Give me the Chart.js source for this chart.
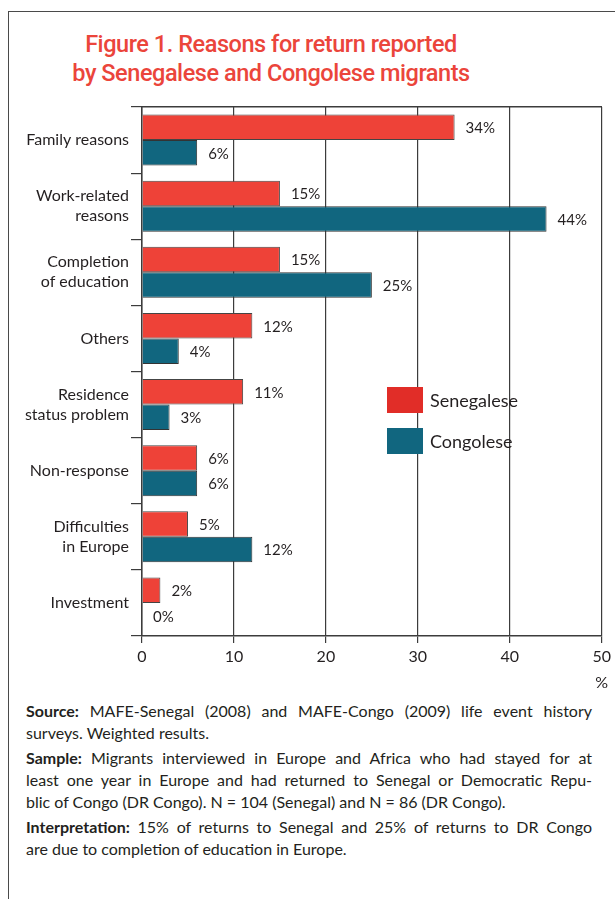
<!DOCTYPE html>
<html lang="en">
<head>
  <meta charset="UTF-8" />
  <title>Reasons for return</title>
  <script src="https://cdn.jsdelivr.net/npm/chart.js"></script>
  <style>
    * { margin: 0; padding: 0; box-sizing: border-box; }
    body {
      width: 615px;
      height: 899px;
      background: #fff;
      position: relative;
      overflow: hidden;
      font-family: Lato, sans-serif;
      color: #231f20;
    }
    .frame {
      position: absolute;
      left: 8px;
      top: 11px;
      width: 620px;
      height: 900px;
      border-left: 1.5px solid #4a4a4a;
      border-top: 1.5px solid #4a4a4a;
    }
    .title {
      position: absolute;
      left: 0;
      width: 542px;
      top: 30px;
      text-align: center;
      font-family: Roboto, sans-serif;
      font-weight: 500;
      font-size: 23.5px;
      line-height: 29px;
      color: #eb453b;
      letter-spacing: -0.45px;
    }
    .chart-box {
      position: absolute;
      left: 0;
      top: 95px;
      width: 615px;
      height: 600px;
    }
    .legend {
      position: absolute;
      left: 387px;
      top: 387px;
      font-size: 18px;
    }
    .legend div {
      display: flex;
      align-items: center;
      height: 26px;
      margin-bottom: 15px;
    }
    .legend span.box {
      display: inline-block;
      width: 36px;
      height: 26px;
      margin-right: 7px;
    }
    .notes {
      position: absolute;
      left: 26px;
      width: 566px;
      top: 700px;
      font-size: 16px;
      line-height: 22px;
    }
    .notes p { margin-bottom: 3px; }
    .notes .full { display: block; text-align: justify; text-align-last: justify; white-space: nowrap; }
  </style>
</head>
<body>
  <div class="frame"></div>
  <div class="title">Figure 1. Reasons for return reported<br>by Senegalese and Congolese migrants</div>

  <div class="chart-box">
    <canvas id="reasonsChart"></canvas>
  </div>

  <div class="legend" id="legend"></div>

  <div class="notes">
    <p><span class="full"><b>Source:</b> MAFE-Senegal (2008) and MAFE-Congo (2009) life event history</span>surveys. Weighted results.</p>
    <p><span class="full"><b>Sample:</b> Migrants interviewed in Europe and Africa who had stayed for at</span><span class="full">least one year in Europe and had returned to Senegal or Democratic Repu-</span>blic of Congo (DR Congo). N = 104 (Senegal) and N = 86 (DR Congo).</p>
    <p><span class="full"><b>Interpretation:</b> 15% of returns to Senegal and 25% of returns to DR Congo</span>are due to completion of education in Europe.</p>
  </div>

  <script>
    const reasons = [
      'Family reasons',
      ['Work-related', 'reasons'],
      ['Completion', 'of education'],
      'Others',
      ['Residence', 'status problem'],
      'Non-response',
      ['Difficulties', 'in Europe'],
      'Investment'
    ];
    const senegalese = [34, 15, 15, 12, 11, 6, 5, 2];
    const congolese = [6, 44, 25, 4, 3, 6, 12, 0];
    const xTicks = [0, 10, 20, 30, 40, 50];

    const redBar = '#ee4238';
    const blueBar = '#11667f';
    const lineCol = '#3c3c3c';
    const textFont = 'Lato, sans-serif';

    // value labels to the right of each bar, plus the "%" unit under the axis end
    const valueLabels = {
      id: 'valueLabels',
      afterDatasetsDraw(chart) {
        const c = chart.ctx;
        c.save();
        c.font = '15px ' + textFont;
        c.fillStyle = '#231f20';
        c.textAlign = 'left';
        c.textBaseline = 'middle';
        chart.data.datasets.forEach((ds, i) => {
          chart.getDatasetMeta(i).data.forEach((bar, j) => {
            c.fillText(ds.data[j] + '%', bar.x + 11, bar.y + 1);
          });
        });
        c.textAlign = 'center';
        c.font = '16px ' + textFont;
        const xs = chart.scales.x;
        c.fillText('%', xs.getPixelForValue(50), chart.chartArea.bottom + 47);
        c.restore();
      }
    };

    const ctx = document.getElementById('reasonsChart').getContext('2d');
    const reasonsChart = new Chart(ctx, {
      type: 'bar',
      data: {
        labels: reasons,
        datasets: [
          { label: 'Senegalese', data: senegalese, backgroundColor: redBar, borderColor: '#444', borderWidth: 1 },
          { label: 'Congolese', data: congolese, backgroundColor: blueBar, borderColor: '#333', borderWidth: 1 }
        ]
      },
      options: {
        indexAxis: 'y',
        responsive: true,
        maintainAspectRatio: false,
        animation: false,
        devicePixelRatio: 1,
        categoryPercentage: 0.77,
        barPercentage: 1,
        layout: { padding: { left: 0, right: 11, top: 0, bottom: 0 } },
        plugins: {
          legend: { display: false },
          tooltip: { enabled: false }
        },
        scales: {
          x: {
            min: 0,
            max: 50,
            afterBuildTicks: (scale) => { scale.ticks = xTicks.map(v => ({ value: v })); },
            afterFit: (scale) => { scale.height = 59; },
            grid: { color: lineCol, lineWidth: 1.2, tickLength: 7, tickColor: lineCol },
            border: { color: lineCol, width: 1.5 },
            ticks: { color: '#231f20', font: { family: textFont, size: 16 }, padding: 4 }
          },
          xTop: {
            position: 'top',
            axis: 'x',
            min: 0,
            max: 50,
            afterFit: (scale) => { scale.height = 11; },
            grid: { display: false },
            ticks: { display: false },
            border: { color: lineCol, width: 1.5 }
          },
          y: {
            afterFit: (scale) => { scale.width = 142; },
            grid: { drawOnChartArea: false, tickLength: 11, color: lineCol, tickColor: lineCol, lineWidth: 1.2 },
            border: { color: lineCol, width: 1.5 },
            ticks: { color: '#231f20', font: { family: textFont, size: 16, lineHeight: 1.25 }, padding: 2 }
          }
        }
      },
      plugins: [valueLabels]
    });

    // legend built from the datasets
    const legendEl = document.getElementById('legend');
    reasonsChart.data.datasets.forEach((ds, i) => {
      const row = document.createElement('div');
      const box = document.createElement('span');
      box.className = 'box';
      box.style.background = i === 0 ? '#e12d28' : ds.backgroundColor;
      row.appendChild(box);
      row.appendChild(document.createTextNode(ds.label));
      legendEl.appendChild(row);
    });
  </script>
</body>
</html>
